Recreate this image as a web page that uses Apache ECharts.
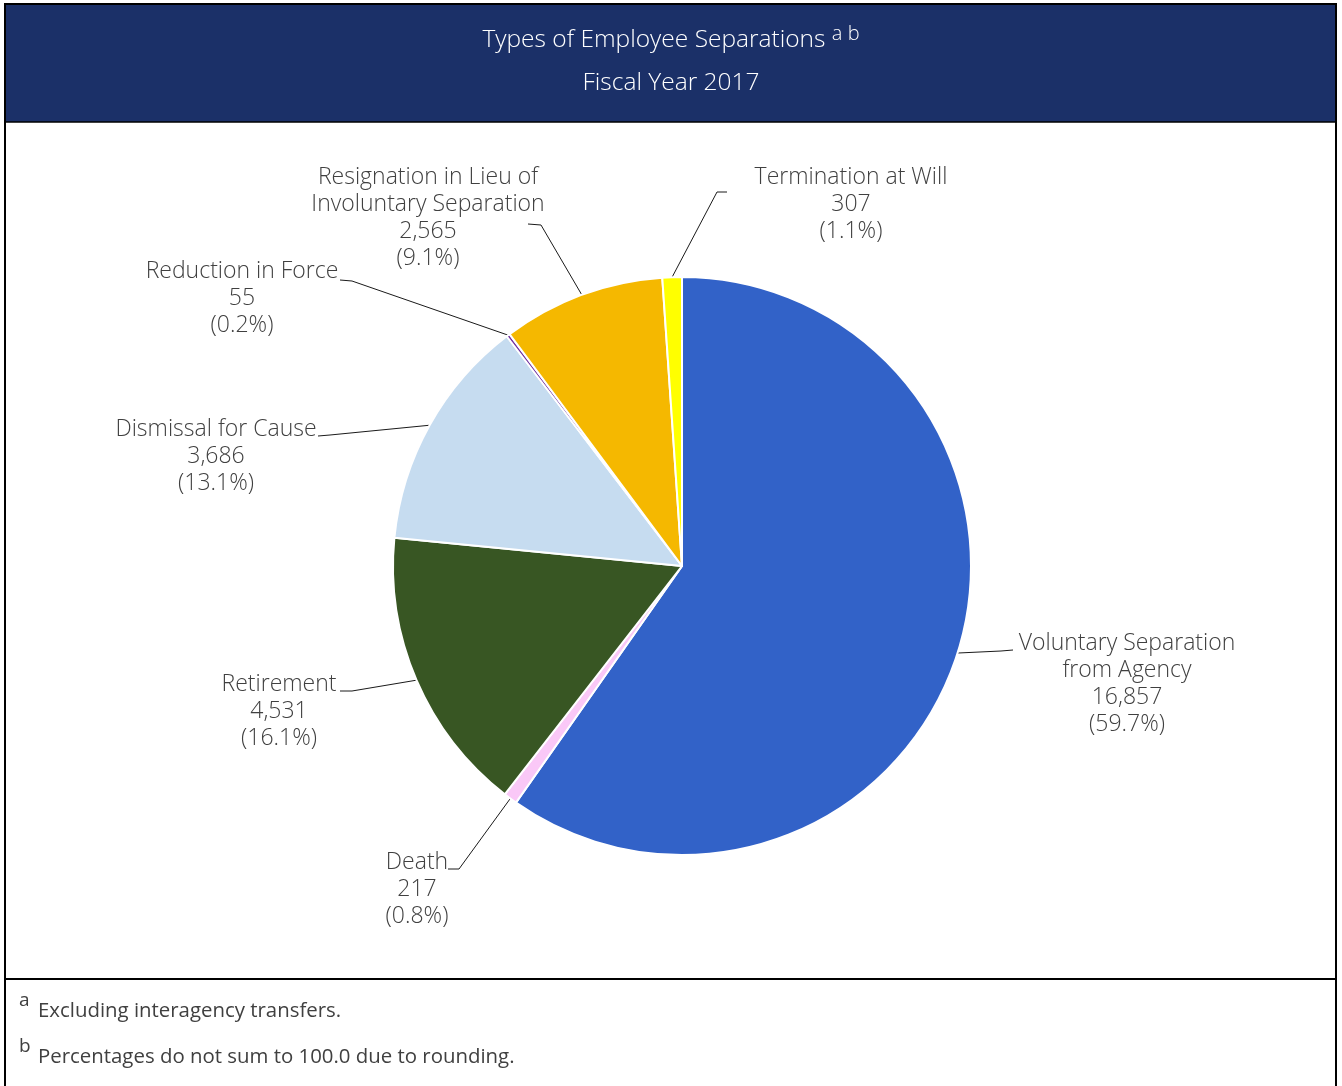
<!DOCTYPE html>
<html>
<head>
<meta charset="utf-8">
<title>Types of Employee Separations — Fiscal Year 2017</title>
<script src="https://cdn.jsdelivr.net/npm/echarts@6/dist/echarts.min.js"></script>
<style>
  html, body { margin: 0; padding: 0; background: #ffffff; }
  #chart { width: 1342px; height: 1086px; }
</style>
</head>
<body>
<div id="chart"></div>
<script>
// Separation types, clockwise from 12 o'clock
const categories = [
  'Voluntary Separation\nfrom Agency',
  'Death',
  'Retirement',
  'Dismissal for Cause',
  'Reduction in Force',
  'Resignation in Lieu of\nInvoluntary Separation',
  'Termination at Will'
];
const separations = [16857, 217, 4531, 3686, 55, 2565, 307];
const sliceColors = ['#3262C8', '#FAC8F7', '#385623', '#C6DCF0', '#7030A0', '#F5B800', '#FFFF00'];
const footnotes = [
  ['a', 'Excluding interagency transfers.'],
  ['b', 'Percentages do not sum to 100.0 due to rounding.']
];

// Label placement: centre x, first-line centre y, and leader line elbow / end
const labelPlacement = [
  { x: 1127, y: 643, elbow: [1001, 651], end: [1013, 650] },
  { x: 417,  y: 862, elbow: [459, 869],  end: [448, 869] },
  { x: 279,  y: 684, elbow: [352, 691],  end: [340, 691] },
  { x: 216,  y: 429, elbow: [330, 435],  end: [318, 436] },
  { x: 242,  y: 271, elbow: [352, 281],  end: [340, 280] },
  { x: 428,  y: 177, elbow: [541, 225],  end: [528, 224] },
  { x: 851,  y: 177, elbow: [717, 192],  end: [727, 192] }
];

const total = separations.reduce((a, b) => a + b, 0);
const LINE_H = 27;
const CX = 682, CY = 566, R = 289;
const FONT = '"Open Sans", Lato, sans-serif';

const chart = echarts.init(document.getElementById('chart'), null, { renderer: 'canvas' });

const option = {
  backgroundColor: '#ffffff',
  animation: false,
  textStyle: { fontFamily: FONT },
  graphic: [
    // header band
    { type: 'rect', z: 0, shape: { x: 6, y: 5, width: 1329, height: 117 }, style: { fill: '#1B3068' } },
    // outer frame
    { type: 'rect', z: 1, shape: { x: 5, y: 4, width: 1331, height: 1100 }, style: { fill: null, stroke: '#000000', lineWidth: 2 } },
    // rule under header
    { type: 'line', z: 1, shape: { x1: 5, y1: 122, x2: 1336, y2: 122 }, style: { stroke: '#000000', lineWidth: 1.5 } },
    // rule above footnotes
    { type: 'line', z: 1, shape: { x1: 5, y1: 979, x2: 1336, y2: 979 }, style: { stroke: '#000000', lineWidth: 2 } },
    // footnotes
    ...footnotes.map((f, i) => ({
      type: 'text',
      z: 2,
      left: 19,
      top: 991 + i * 46,
      style: {
        text: '{sup|' + f[0] + '}{txt|' + f[1] + '}',
        rich: {
          sup: { fontSize: 19, fill: '#404040', fontFamily: FONT, width: 19, padding: [0, 0, 10, 0] },
          txt: { fontSize: 20.4, fill: '#404040', fontFamily: FONT, padding: [12, 0, 0, 0] }
        }
      }
    }))
  ],
  title: {
    left: 'center',
    top: 19,
    itemGap: 18,
    text: 'Types of Employee Separations {sup|a b}',
    subtext: 'Fiscal Year 2017',
    textStyle: {
      color: '#ffffff',
      fontSize: 24.5,
      fontWeight: 300,
      fontFamily: FONT,
      rich: {
        sup: { color: '#ffffff', fontSize: 20, fontWeight: 300, fontFamily: FONT, padding: [0, 0, 12, 0] }
      }
    },
    subtextStyle: {
      color: '#ffffff',
      fontSize: 24.5,
      fontWeight: 300,
      fontFamily: FONT
    }
  },
  series: [{
    type: 'pie',
    center: [CX, CY],
    radius: R,
    startAngle: 90,
    clockwise: true,
    avoidLabelOverlap: false,
    data: categories.map((name, i) => ({
      name: name,
      value: separations[i],
      itemStyle: { color: sliceColors[i] }
    })),
    itemStyle: { borderColor: '#ffffff', borderWidth: 2 },
    emphasis: { disabled: true },
    label: {
      show: true,
      position: 'outside',
      color: '#404040',
      fontSize: 23,
      fontWeight: 300,
      lineHeight: LINE_H,
      fontFamily: FONT,
      align: 'center',
      formatter: (p) => {
        const pct = (p.value / total * 100).toFixed(1);
        return p.name + '\n' + p.value.toLocaleString('en-US') + '\n(' + pct + '%)';
      }
    },
    labelLine: {
      show: true,
      length: 10,
      length2: 10,
      smooth: false,
      lineStyle: { color: '#1a1a1a', width: 1 }
    },
    labelLayout: (params) => {
      const pl = labelPlacement[params.dataIndex];
      let start;
      if (params.labelLinePoints && params.labelLinePoints[0]) {
        start = params.labelLinePoints[0];
      } else {
        // mid-angle point on the rim
        let acc = 0;
        for (let k = 0; k < params.dataIndex; k++) acc += separations[k];
        const mid = (acc + separations[params.dataIndex] / 2) / total * Math.PI * 2;
        start = [CX + R * Math.sin(mid), CY - R * Math.cos(mid)];
      }
      return {
        x: pl.x,
        y: pl.y - LINE_H / 2,
        align: 'center',
        verticalAlign: 'top',
        labelLinePoints: [start, pl.elbow, pl.end]
      };
    }
  }]
};

chart.setOption(option);
</script>
</body>
</html>
